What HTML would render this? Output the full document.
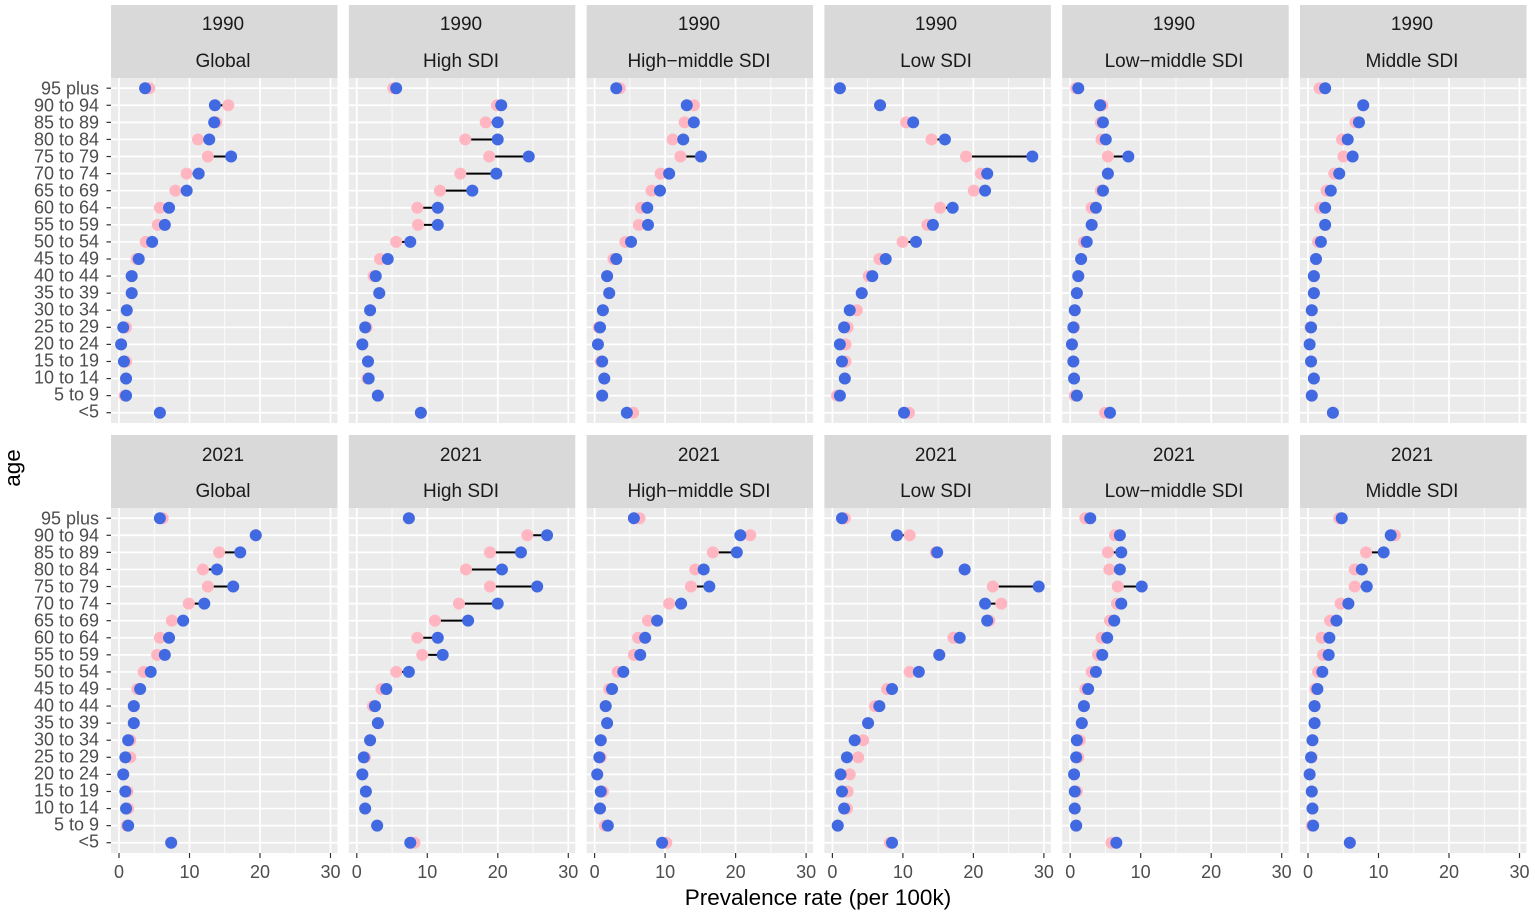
<!DOCTYPE html>
<html><head><meta charset="utf-8"><style>
body{margin:0;background:#fff}
svg{display:block;font-family:"Liberation Sans",Arial,sans-serif}
.yl{font-size:18px;fill:#4d4d4d;text-anchor:end}
.xl{font-size:18px;fill:#4d4d4d;text-anchor:middle}
.st{font-size:19px;fill:#1a1a1a;text-anchor:middle}
</style></head><body>
<svg id="s" width="1535" height="914" viewBox="0 0 1535 914" xmlns="http://www.w3.org/2000/svg">
<rect width="1535" height="914" fill="#fff"/>
<g id="panels"></g>
<g id="labels">
<text x="223" y="30" class="st">1990</text><text x="223" y="67" class="st">Global</text>
<text x="461" y="30" class="st">1990</text><text x="461" y="67" class="st">High SDI</text>
<text x="699" y="30" class="st">1990</text><text x="699" y="67" class="st">High−middle SDI</text>
<text x="936" y="30" class="st">1990</text><text x="936" y="67" class="st">Low SDI</text>
<text x="1174" y="30" class="st">1990</text><text x="1174" y="67" class="st">Low−middle SDI</text>
<text x="1412" y="30" class="st">1990</text><text x="1412" y="67" class="st">Middle SDI</text>
<text x="223" y="461" class="st">2021</text><text x="223" y="497" class="st">Global</text>
<text x="461" y="461" class="st">2021</text><text x="461" y="497" class="st">High SDI</text>
<text x="699" y="461" class="st">2021</text><text x="699" y="497" class="st">High−middle SDI</text>
<text x="936" y="461" class="st">2021</text><text x="936" y="497" class="st">Low SDI</text>
<text x="1174" y="461" class="st">2021</text><text x="1174" y="497" class="st">Low−middle SDI</text>
<text x="1412" y="461" class="st">2021</text><text x="1412" y="497" class="st">Middle SDI</text>
<g transform="translate(0,0.5)">
<text x="99" y="94" class="yl">95 plus</text><text x="99" y="111" class="yl">90 to 94</text><text x="99" y="128" class="yl">85 to 89</text><text x="99" y="145" class="yl">80 to 84</text><text x="99" y="162" class="yl">75 to 79</text><text x="99" y="179" class="yl">70 to 74</text><text x="99" y="196" class="yl">65 to 69</text><text x="99" y="213" class="yl">60 to 64</text><text x="99" y="230" class="yl">55 to 59</text><text x="99" y="247" class="yl">50 to 54</text><text x="99" y="264" class="yl">45 to 49</text><text x="99" y="281" class="yl">40 to 44</text><text x="99" y="298" class="yl">35 to 39</text><text x="99" y="315" class="yl">30 to 34</text><text x="99" y="332" class="yl">25 to 29</text><text x="99" y="349" class="yl">20 to 24</text><text x="99" y="366" class="yl">15 to 19</text><text x="99" y="383" class="yl">10 to 14</text><text x="99" y="400" class="yl">5 to 9</text><text x="99" y="417" class="yl">&lt;5</text>
</g>
<g transform="translate(0,430.5)">
<text x="99" y="94" class="yl">95 plus</text><text x="99" y="111" class="yl">90 to 94</text><text x="99" y="128" class="yl">85 to 89</text><text x="99" y="145" class="yl">80 to 84</text><text x="99" y="162" class="yl">75 to 79</text><text x="99" y="179" class="yl">70 to 74</text><text x="99" y="196" class="yl">65 to 69</text><text x="99" y="213" class="yl">60 to 64</text><text x="99" y="230" class="yl">55 to 59</text><text x="99" y="247" class="yl">50 to 54</text><text x="99" y="264" class="yl">45 to 49</text><text x="99" y="281" class="yl">40 to 44</text><text x="99" y="298" class="yl">35 to 39</text><text x="99" y="315" class="yl">30 to 34</text><text x="99" y="332" class="yl">25 to 29</text><text x="99" y="349" class="yl">20 to 24</text><text x="99" y="366" class="yl">15 to 19</text><text x="99" y="383" class="yl">10 to 14</text><text x="99" y="400" class="yl">5 to 9</text><text x="99" y="417" class="yl">&lt;5</text>
</g>
<text x="119" y="878" class="xl">0</text><text x="189.5" y="878" class="xl">10</text><text x="260" y="878" class="xl">20</text><text x="330.5" y="878" class="xl">30</text>
<text x="356.8" y="878" class="xl">0</text><text x="427.3" y="878" class="xl">10</text><text x="497.8" y="878" class="xl">20</text><text x="568.3" y="878" class="xl">30</text>
<text x="594.6" y="878" class="xl">0</text><text x="665.1" y="878" class="xl">10</text><text x="735.6" y="878" class="xl">20</text><text x="806.1" y="878" class="xl">30</text>
<text x="832.4" y="878" class="xl">0</text><text x="902.9" y="878" class="xl">10</text><text x="973.4" y="878" class="xl">20</text><text x="1043.9" y="878" class="xl">30</text>
<text x="1070.2" y="878" class="xl">0</text><text x="1140.7" y="878" class="xl">10</text><text x="1211.2" y="878" class="xl">20</text><text x="1281.7" y="878" class="xl">30</text>
<text x="1308" y="878" class="xl">0</text><text x="1378.5" y="878" class="xl">10</text><text x="1449" y="878" class="xl">20</text><text x="1519.5" y="878" class="xl">30</text>
<text x="818" y="905" style="font-size:22.5px;fill:#000;text-anchor:middle">Prevalence rate (per 100k)</text>
<text transform="translate(20,468) rotate(-90)" style="font-size:22.5px;fill:#000;text-anchor:middle">age</text>
</g>
</svg>
<script>
var D=[
[[4.3,15.5,13.8,11.2,12.6,9.6,8.0,5.8,5.5,3.8,2.5,1.8,1.8,1.1,1.0,0.3,1.0,1.0,0.8,5.8],[3.7,13.6,13.5,12.8,15.9,11.3,9.6,7.1,6.5,4.7,2.8,1.8,1.8,1.1,0.6,0.3,0.7,1.0,1.0,5.8]],
[[5.3,20.0,18.4,15.5,18.9,14.8,11.9,8.7,8.8,5.7,3.4,2.5,3.3,2.0,1.5,0.9,1.7,1.6,3.1,9.2],[5.7,20.6,20.1,20.1,24.5,19.9,16.5,11.6,11.6,7.7,4.5,2.8,3.3,2.0,1.3,0.9,1.7,1.8,3.1,9.2]],
[[3.8,14.3,13.0,11.3,12.4,9.6,8.3,6.8,6.5,4.6,2.9,2.0,2.3,1.4,0.8,0.7,1.1,1.6,1.3,5.7],[3.3,13.3,14.3,12.8,15.3,10.8,9.5,7.7,7.8,5.4,3.3,2.0,2.3,1.4,1.0,0.7,1.3,1.6,1.3,4.8]],
[[1.4,7.1,10.8,14.4,19.3,21.4,20.4,15.6,13.8,10.3,7.0,5.5,4.5,3.8,2.5,2.2,2.2,2.1,1.0,11.2],[1.4,7.1,11.8,16.3,28.7,22.3,22.0,17.4,14.6,12.2,7.9,6.0,4.5,2.8,2.0,1.4,1.7,2.1,1.4,10.5]],
[[1.3,5.0,4.8,4.9,5.8,5.8,4.8,3.5,3.5,2.4,2.0,1.6,1.4,1.1,1.0,0.7,0.9,1.0,1.1,5.4],[1.6,4.7,5.1,5.5,8.7,5.8,5.1,4.1,3.5,2.8,2.0,1.6,1.4,1.1,0.9,0.7,0.9,1.0,1.4,6.1]],
[[2.2,8.4,7.3,5.4,5.6,4.3,3.2,2.3,3.0,2.0,1.7,1.4,1.4,1.1,0.9,0.8,1.0,1.4,1.1,4.1],[3.0,8.4,7.8,6.2,6.9,5.0,3.8,3.0,3.0,2.4,1.7,1.4,1.4,1.1,1.0,0.8,1.0,1.4,1.1,4.1]],
[[6.2,19.4,14.2,11.9,12.6,9.9,7.5,5.8,5.4,3.5,2.6,2.1,2.1,1.6,1.6,0.6,1.2,1.3,1.1,7.4],[5.8,19.4,17.2,13.9,16.2,12.1,9.1,7.1,6.5,4.5,3.0,2.1,2.1,1.3,0.9,0.6,0.9,1.0,1.3,7.4]],
[[7.5,24.3,19.0,15.6,19.0,14.6,11.2,8.7,9.4,5.7,3.6,2.4,3.1,2.0,1.3,0.9,1.4,1.3,3.0,8.3],[7.5,27.1,23.4,20.7,25.7,20.1,15.9,11.6,12.3,7.5,4.3,2.7,3.1,2.0,1.1,0.9,1.4,1.3,3.0,7.7]],
[[6.6,22.3,17.0,14.5,13.9,10.8,7.8,6.4,5.8,3.5,2.3,1.8,2.0,1.1,1.1,0.6,1.4,1.0,1.7,10.4],[5.8,20.9,20.4,15.7,16.5,12.5,9.1,7.4,6.7,4.3,2.7,1.8,2.0,1.1,0.9,0.6,1.1,1.0,2.1,9.8]],
[[2.1,11.3,15.0,19.1,23.1,24.3,22.6,17.5,15.5,11.3,8.1,6.4,5.4,4.7,4.0,2.8,2.5,2.4,1.1,8.5],[1.7,9.5,15.2,19.1,29.6,22.0,22.3,18.4,15.5,12.6,8.8,7.0,5.4,3.5,2.4,1.5,1.7,2.0,1.1,8.8]],
[[2.6,6.8,5.8,6.0,7.2,7.1,6.1,4.9,4.4,3.5,2.6,2.4,2.1,1.8,1.6,1.0,1.4,1.1,1.3,6.3],[3.3,7.5,7.7,7.5,10.6,7.7,6.7,5.7,5.0,4.1,3.0,2.4,2.1,1.4,1.3,1.0,1.1,1.1,1.3,7.0]],
[[5.0,12.9,8.8,7.2,7.2,5.2,3.7,2.5,2.7,2.0,1.6,1.5,1.5,1.2,1.1,0.8,1.1,1.2,1.1,6.5],[5.35,12.3,11.3,8.2,8.9,6.3,4.6,3.6,3.5,2.6,1.9,1.5,1.5,1.2,1.0,0.8,1.1,1.2,1.3,6.5]]
];
var DX=[119,356,593,830,1067,1304],S=7.05,h='';
for(var r=0;r<2;r++){
 var st=r?435:5,pt=r?508:78,pb=r?853:423;
 for(var c=0;c<6;c++){
  var L=111+c*237.8,W=226.5,g0=L+8;
  h+='<rect x="'+L+'" y="'+st+'" width="'+W+'" height="'+(pt-st)+'" fill="#d9d9d9"/>';
  h+='<rect x="'+L+'" y="'+pt+'" width="'+W+'" height="'+(pb-pt)+'" fill="#ebebeb"/>';
  for(var k=5;k<=25;k+=10){var x=g0+k*S;h+='<line x1="'+x+'" x2="'+x+'" y1="'+pt+'" y2="'+pb+'" stroke="#fff" stroke-width="0.8"/>';}
  for(var k=0;k<=30;k+=10){var x=g0+k*S;h+='<line x1="'+x+'" x2="'+x+'" y1="'+pt+'" y2="'+pb+'" stroke="#fff" stroke-width="1.7"/>';
   if(r)h+='<line x1="'+x+'" x2="'+x+'" y1="'+pb+'" y2="'+(pb+5)+'" stroke="#333" stroke-width="1.2"/>';}
  for(var i=0;i<20;i++){var y=pt+10.2+i*17.08;h+='<line x1="'+L+'" x2="'+(L+W)+'" y1="'+y+'" y2="'+y+'" stroke="#fff" stroke-width="1.7"/>';
   if(c==0)h+='<line x1="'+(L-4.5)+'" x2="'+L+'" y1="'+y+'" y2="'+y+'" stroke="#333" stroke-width="1.2"/>';}
  var d=D[r*6+c];
  for(var i=0;i<20;i++){var y=pt+10.2+i*17.08,a=DX[c]+d[0][i]*S,b=DX[c]+d[1][i]*S;
   h+='<line x1="'+a+'" x2="'+b+'" y1="'+y+'" y2="'+y+'" stroke="#000" stroke-width="2"/>';
   h+='<circle cx="'+a+'" cy="'+y+'" r="6" fill="#ffb6c1"/>';
   h+='<circle cx="'+b+'" cy="'+y+'" r="6" fill="#4169e1"/>';}
 }
}
document.getElementById('panels').innerHTML=h;
</script>
</body></html>
